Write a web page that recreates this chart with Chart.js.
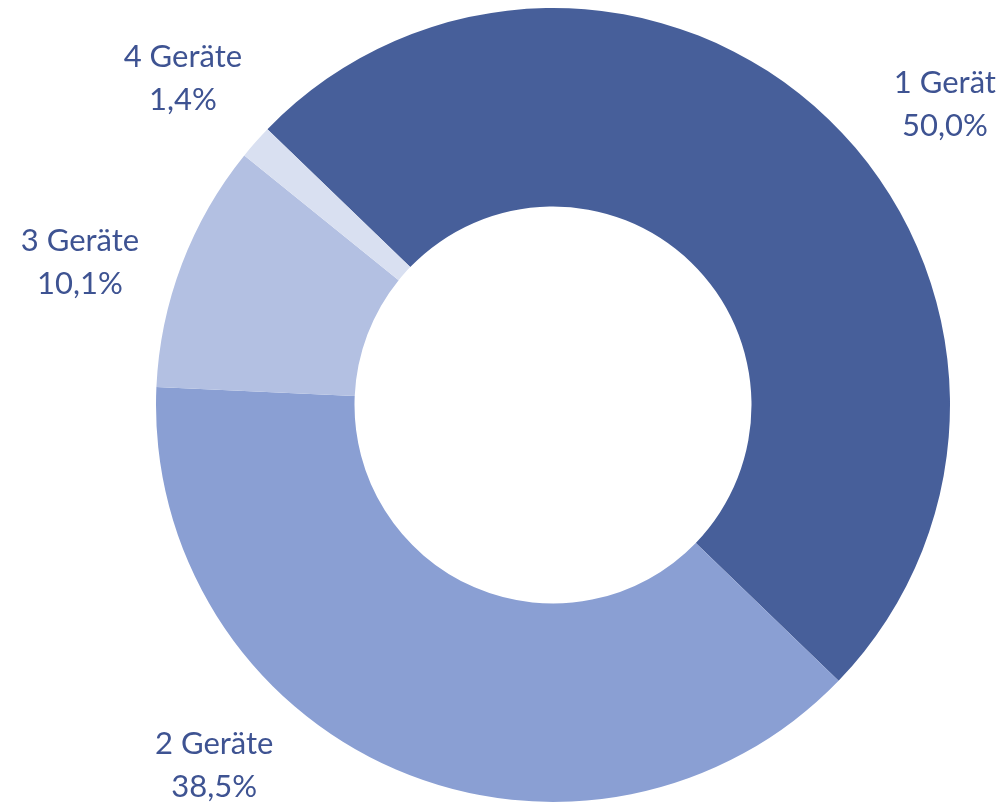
<!DOCTYPE html>
<html>
<head>
<meta charset="utf-8">
<script src="https://cdn.jsdelivr.net/npm/chart.js@4/dist/chart.umd.min.js"></script>
<style>
html,body{margin:0;padding:0;background:#fff;}
#wrap{width:1003px;height:804px;}
</style>
</head>
<body>
<div id="wrap"><canvas id="chart"></canvas></div>
<script>
const categories = ["1 Gerät", "2 Geräte", "3 Geräte", "4 Geräte"];
const shares = [50.0, 38.5, 10.1, 1.4];
const sliceColors = ["#475F9A", "#8A9FD3", "#B3C0E2", "#D9E0F1"];

// outside labels, nudged a bit like the office layout does
const labelShift = [8.5, 20, -4, 0];

const outsideLabels = {
  id: "outsideLabels",
  afterDraw(chart){
    const c = chart.ctx;
    const meta = chart.getDatasetMeta(0);
    c.save();
    c.font = "31px Lato, 'Open Sans', sans-serif";
    c.fillStyle = "#3E5392";
    c.textAlign = "center";
    c.textBaseline = "middle";
    meta.data.forEach((arc, i)=>{
      const p = arc.getProps(["x","y","startAngle","endAngle","outerRadius"], true);
      const mid = (p.startAngle + p.endAngle)/2 + labelShift[i]*Math.PI/180;
      const r = p.outerRadius + 97;
      const x = p.x + Math.cos(mid)*r;
      const y = p.y + Math.sin(mid)*r;
      const pct = shares[i].toFixed(1).replace(".", ",") + "%";
      c.fillText(categories[i], x, y - 21);
      c.fillText(pct, x, y + 22);
    });
    c.restore();
  }
};

new Chart(document.getElementById("chart"), {
  type: "doughnut",
  data: {
    labels: categories,
    datasets: [{
      data: shares,
      backgroundColor: sliceColors,
      borderWidth: 0
    }]
  },
  options: {
    responsive: true,
    maintainAspectRatio: false,
    animation: false,
    rotation: -46,
    cutout: "50%",
    layout: { padding: { top: 8, bottom: 2, left: 156, right: 53 } },
    plugins: {
      legend: { display: false },
      tooltip: { enabled: false }
    }
  },
  plugins: [outsideLabels]
});
</script>
</body>
</html>
